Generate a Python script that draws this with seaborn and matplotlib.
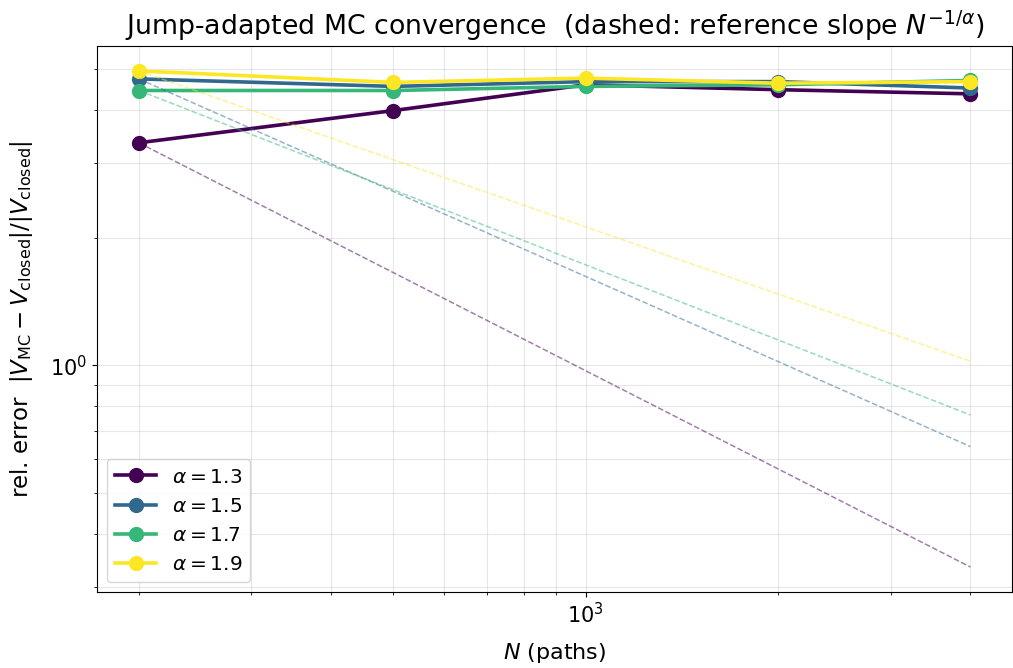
import numpy as np
import pandas as pd
import matplotlib
matplotlib.use("Agg")
import matplotlib.pyplot as plt
import seaborn as sns

# paths used in each MC run
n_paths = [200, 500, 1000, 2000, 4000]

# relative error for each alpha
err_a13 = [3.35, 3.99, 4.59, 4.47, 4.37]
err_a15 = [4.74, 4.55, 4.67, 4.67, 4.51]
err_a17 = [4.45, 4.45, 4.55, 4.59, 4.70]
err_a19 = [4.95, 4.65, 4.76, 4.63, 4.67]

alphas = [1.3, 1.5, 1.7, 1.9]
errors = [err_a13, err_a15, err_a17, err_a19]

rows = []
for a, e in zip(alphas, errors):
    for n, v in zip(n_paths, e):
        rows.append({"N": n, "err": v, "label": rf"$\alpha = {a}$"})
df = pd.DataFrame(rows)

plt.rcParams["font.size"] = 15
colors = plt.cm.viridis(np.linspace(0, 1, len(alphas)))

fig, ax = plt.subplots(figsize=(10.13, 6.68), dpi=100)

sns.lineplot(data=df, x="N", y="err", hue="label", palette=list(colors),
             marker="o", markersize=11, markeredgewidth=0, linewidth=2.6, ax=ax)

# dashed reference slope N^(-1/alpha), anchored at the first point
N = np.array(n_paths, dtype=float)
for a, e, c in zip(alphas, errors, colors):
    ref = e[0] * (N / N[0]) ** (-1.0 / a)
    ax.plot(N, ref, "--", color=c, alpha=0.5, linewidth=1.1)

ax.set_xscale("log")
ax.set_yscale("log")
ax.grid(True, which="both", alpha=0.3)
ax.tick_params(labelsize=15)
ax.set_xlabel(r"$N$ (paths)", fontsize=16, labelpad=10)
ax.set_ylabel(r"rel. error  $|V_{\rm MC}-V_{\rm closed}|/|V_{\rm closed}|$",
              fontsize=16.5, labelpad=11)
ax.set_title(r"Jump-adapted MC convergence  (dashed: reference slope $N^{-1/\alpha}$)",
             fontsize=19.3, pad=8)
ax.legend(loc="lower left", title=None, fontsize=14.5)

plt.subplots_adjust(left=0.096, right=0.999, top=0.931, bottom=0.114)
plt.savefig("out.png")
plt.close()
